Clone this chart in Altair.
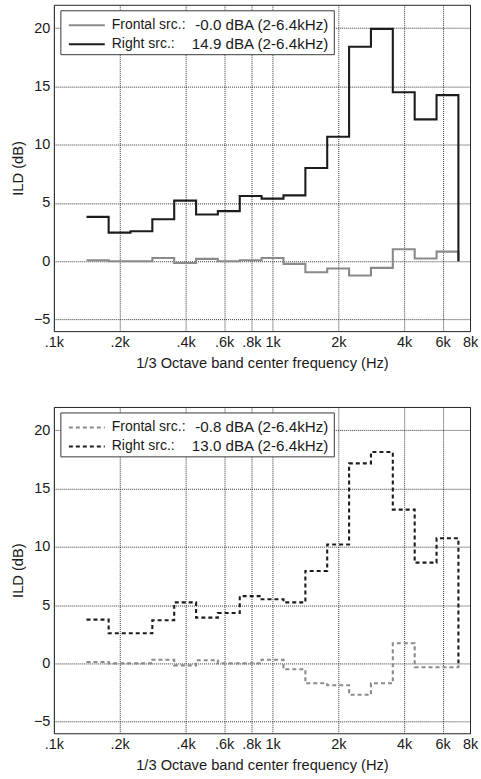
import altair as alt
import pandas as pd

# 1/3-octave band edges (Hz) where each stair step starts; last edge closes the plot
band_edges_hz = [141, 178, 224, 282, 355, 447, 562, 708, 891, 1122, 1413, 1778,
                 2239, 2818, 3548, 4467, 5623, 7079]

top_frontal = [0.08, 0.0, 0.0, 0.28, -0.15, 0.2, 0.0, 0.08, 0.28, -0.23, -0.95,
               -0.63, -1.23, -0.57, 1.03, 0.23, 0.82, 0.0]
top_right = [3.8, 2.45, 2.57, 3.6, 5.2, 4.0, 4.3, 5.6, 5.37, 5.65, 8.0, 10.68,
             18.4, 19.93, 14.5, 12.17, 14.25, 0.0]
bottom_frontal = [0.11, 0.0, 0.0, 0.31, -0.17, 0.26, 0.0, 0.0, 0.31, -0.51, -1.71,
                  -1.88, -2.7, -1.71, 1.73, -0.34, -0.34, 0.0]
bottom_right = [3.75, 2.58, 2.58, 3.7, 5.23, 3.92, 4.32, 5.77, 5.5, 5.23, 7.93,
                10.2, 17.16, 18.13, 13.19, 8.64, 10.74, 0.0]

series_names = ["Frontal src.:", "Right src.:"]
top_value_texts = ["-0.0 dBA (2-6.4kHz)", "14.9 dBA (2-6.4kHz)"]
bottom_value_texts = ["-0.8 dBA (2-6.4kHz)", "13.0 dBA (2-6.4kHz)"]

x_ticks = [100, 200, 400, 600, 800, 1000, 2000, 4000, 6000, 8000]
x_tick_labels = [".1k", ".2k", ".4k", ".6k", ".8k", "1k", "2k", "4k", "6k", "8k"]
y_ticks = [-5, 0, 5, 10, 15, 20]

x_title = "1/3 Octave band center frequency (Hz)"
y_title = "ILD (dB)"

series_colors = ["#8a8a8a", "#1c1c1c"]
FONT = "Liberation Sans"
TEXT_COLOR = "#1a1a1a"

label_expr = ""
for v, lab in zip(x_ticks, x_tick_labels):
    label_expr += f"abs(datum.value - {v}) < 1 ? '{lab}' : "
label_expr += "''"

W, H = 417, 327


def panel(frontal, right, value_texts, dash):
    n = len(band_edges_hz)
    df = pd.DataFrame({
        "freq": band_edges_hz * 2,
        "ild": frontal + right,
        "series": [series_names[0]] * n + [series_names[1]] * n,
        "idx": list(range(n)) * 2,
    })
    line_kwargs = dict(interpolate="step-after", strokeWidth=2.1, clip=True)
    if dash:
        line_kwargs["strokeDash"] = [4, 3]
    lines = alt.Chart(df).mark_line(**line_kwargs).encode(
        x=alt.X("freq:Q",
                scale=alt.Scale(type="log", domain=[100, 8000], nice=False),
                axis=alt.Axis(values=x_ticks, labelExpr=label_expr, title=x_title,
                              labelFlush=False, labelOverlap=False)),
        y=alt.Y("ild:Q",
                scale=alt.Scale(domain=[-6, 22], nice=False, zero=False),
                axis=alt.Axis(values=y_ticks, title=y_title)),
        color=alt.Color("series:N",
                        scale=alt.Scale(domain=series_names, range=series_colors),
                        legend=None),
        detail="series:N",
        order="idx:Q",
    )

    one = pd.DataFrame({"k": [0]})
    box = alt.Chart(one).mark_rect(fill="white", stroke="#3a3a3a", strokeWidth=1).encode(
        x=alt.value(7), x2=alt.value(281), y=alt.value(6), y2=alt.value(50))
    layers = [lines, box]
    row_y = [20.5, 39.5]
    for i in range(2):
        rule_kwargs = dict(strokeWidth=2, color=series_colors[i])
        if dash:
            rule_kwargs["strokeDash"] = [4, 3]
        layers.append(alt.Chart(one).mark_rule(**rule_kwargs).encode(
            x=alt.value(15), x2=alt.value(51), y=alt.value(row_y[i])))
        layers.append(alt.Chart(one).mark_text(
            align="left", baseline="middle", font=FONT, fontSize=14, color=TEXT_COLOR
        ).encode(x=alt.value(58), y=alt.value(row_y[i]), text=alt.value(series_names[i])))
        layers.append(alt.Chart(one).mark_text(
            align="right", baseline="middle", font=FONT, fontSize=15.2, color=TEXT_COLOR
        ).encode(x=alt.value(275), y=alt.value(row_y[i]), text=alt.value(value_texts[i])))
    return alt.layer(*layers).properties(width=W, height=H)


top = panel(top_frontal, top_right, top_value_texts, False)
bottom = panel(bottom_frontal, bottom_right, bottom_value_texts, True)

chart = alt.vconcat(top, bottom, spacing=76, bounds="flush").properties(
    padding={"left": 9, "top": 3, "right": 2, "bottom": 2},
    background="white",
).configure_view(
    stroke="#222222", strokeWidth=1
).configure_axis(
    domain=False, ticks=False,
    grid=True, gridColor="#333333", gridDash=[1, 1], gridWidth=1, gridOpacity=1,
    labelFont=FONT, labelFontSize=14.5, labelColor=TEXT_COLOR, labelPadding=4,
    titleFont=FONT, titleFontSize=14.7, titleFontWeight="normal", titleColor=TEXT_COLOR,
).configure_axisY(
    titlePadding=8
).configure_axisX(
    titlePadding=7
)

chart.save("out.html", embed_options={"renderer": "svg", "actions": False})
